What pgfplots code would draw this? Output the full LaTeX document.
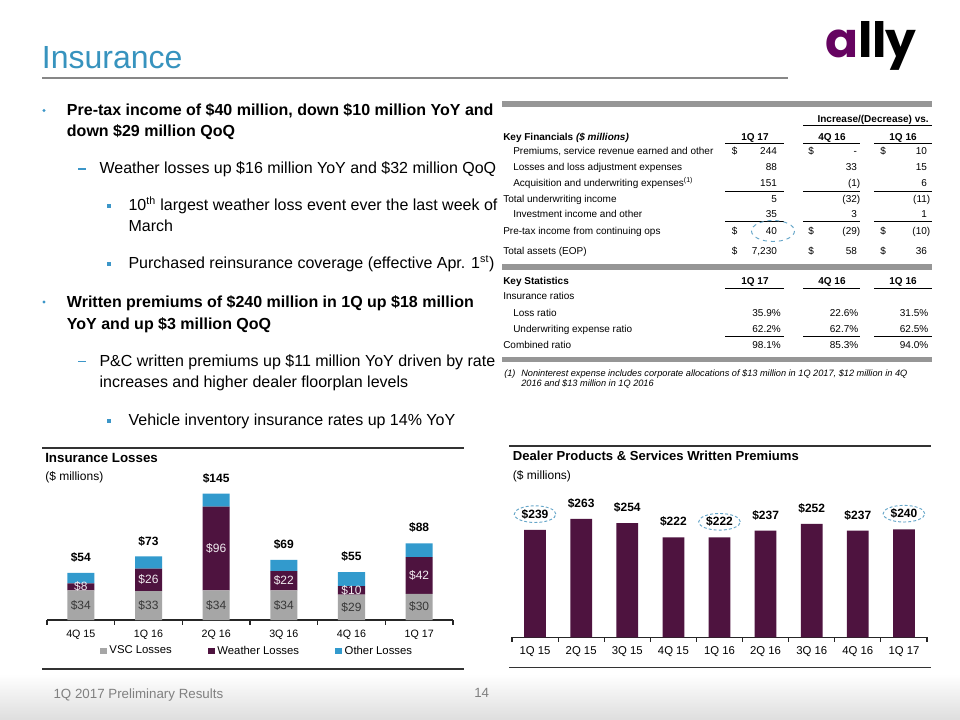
\documentclass[border=0pt]{standalone}
\usepackage{fontspec}
\setmainfont{Liberation Sans}
\newfontfamily\logofont{Poppins}
\usepackage{pgfplots}
\usepackage{pgfplotstable}
\pgfplotsset{compat=1.18}
\usetikzlibrary{shapes.geometric}

\definecolor{titleblue}{RGB}{55,147,190}
\definecolor{bulletblue}{RGB}{60,150,200}
\definecolor{vscgrey}{RGB}{166,166,166}
\definecolor{weapurple}{RGB}{78,19,63}
\definecolor{othblue}{RGB}{50,154,205}
\definecolor{rulegrey}{RGB}{135,135,135}
\definecolor{tablegrey}{RGB}{150,150,150}
\definecolor{elblue}{RGB}{100,165,200}
\definecolor{logopurple}{RGB}{101,3,96}
\definecolor{footgrey}{RGB}{128,128,128}

\newcommand{\fs}[1]{\fontsize{#1}{#1}\selectfont}
\newcommand{\pv}[1]{#1\phantom{)}}
\newcommand{\lab}[3]{\node[anchor=base west,inner sep=0pt] at (#1,#2) {#3};}
\newcommand{\num}[3]{\node[anchor=base east,inner sep=0pt] at (#1,#2) {#3};}
\newcommand{\dol}[2]{\node[anchor=base west,inner sep=0pt] at (#1,#2) {\$};}

\pgfplotstableread{
x vsc wea oth tot
0 34 8 12 54
1 33 26 14 73
2 34 96 15 145
3 34 22 13 69
4 29 10 16 55
5 30 42 16 88
}\losses

\pgfplotstableread{
x val
0 239
1 263
2 254
3 222
4 222
5 237
6 252
7 237
8 240
}\premiums

\pgfplotstableread{
x val
0 239
4 222
8 240
}\circled

\pgfplotsset{sqleg/.style={legend image code/.code={\fill[##1] (0pt,-2.6pt) rectangle (5.2pt,2.6pt);}}}

\begin{document}
\begin{tikzpicture}[x=0.75pt,y=-0.75pt]
\useasboundingbox (0,0) rectangle (960,720);
\fill[white] (0,0) rectangle (960,720);
\shade[top color=white, bottom color=black!13] (0,674) rectangle (960,720);

% title and logo
\node[anchor=base west, inner sep=0pt, text=titleblue, font=\fs{24}] at (41.7,68.3) {Insurance};
\draw[rulegrey, line width=2.2pt] (42,78) -- (788,78);
\node[anchor=base west, inner sep=0pt, font=\logofont\bfseries\fs{36.5}] at (825,57.3) {\textcolor{logopurple}{a}ll\kern-1pt y};

% bullets
\begin{scope}[font=\fs{12}]
\fill[bulletblue] (44,110.5) circle (1.6);
\node[anchor=base west, inner sep=0pt, font=\bfseries\fs{12}] at (66.7,116) {Pre-tax income of \$40 million, down \$10 million YoY and};
\node[anchor=base west, inner sep=0pt, font=\bfseries\fs{12}] at (66.7,137) {down \$29 million QoQ};
\draw[bulletblue, line width=0.8pt] (78,169) -- (85.5,169);
\lab{99.3}{173.3}{Weather losses up \$16 million YoY and \$32 million QoQ}
\fill[bulletblue] (107,204) rectangle (111,208);
\lab{128.3}{210.7}{10\textsuperscript{th} largest weather loss event ever the last week of}
\lab{128.3}{231.7}{March}
\fill[bulletblue] (107,262) rectangle (111,266);
\lab{128.3}{268.5}{Purchased reinsurance coverage (effective Apr. 1\textsuperscript{st})}
\fill[bulletblue] (44,302) circle (1.6);
\node[anchor=base west, inner sep=0pt, font=\bfseries\fs{12}] at (66.7,307.7) {Written premiums of \$240 million in 1Q up \$18 million};
\node[anchor=base west, inner sep=0pt, font=\bfseries\fs{12}] at (66.7,329.3) {YoY and up \$3 million QoQ};
\draw[bulletblue, line width=0.8pt] (78,361.5) -- (85.5,361.5);
\lab{99.3}{366}{P\&C written premiums up \$11 million YoY driven by rate}
\lab{99.3}{387.7}{increases and higher dealer floorplan levels}
\fill[bulletblue] (107,419) rectangle (111,423);
\lab{128.3}{425.3}{Vehicle inventory insurance rates up 14\% YoY}
\end{scope}

% table
\fill[tablegrey] (502,101) rectangle (932,107);
\fill[tablegrey] (502,264) rectangle (932,270);
\fill[tablegrey] (502,356.5) rectangle (932,361.5);
\begin{scope}[font=\fs{7.5}]
\node[anchor=base east,inner sep=0pt,font=\bfseries\fs{7.5}] at (929,122.3) {Increase/(Decrease) vs.};
\draw[line width=0.6pt] (803,125) -- (932,125);
\node[anchor=base west,inner sep=0pt,font=\bfseries\fs{7.5}] at (503,140.3) {Key Financials \textit{(\$ millions)}};
\node[anchor=base,inner sep=0pt,font=\bfseries\fs{7.5}] at (755,140.3) {1Q 17};
\node[anchor=base,inner sep=0pt,font=\bfseries\fs{7.5}] at (832,140.3) {4Q 16};
\node[anchor=base,inner sep=0pt,font=\bfseries\fs{7.5}] at (903,140.3) {1Q 16};
\foreach \yy in {143.3,191,221.7,288.3,336} {
  \draw[line width=0.6pt] (725,\yy) -- (784,\yy);
  \draw[line width=0.6pt] (803,\yy) -- (860,\yy);
  \draw[line width=0.6pt] (874,\yy) -- (932,\yy);
}
% rows
\lab{513}{155}{Premiums, service revenue earned and other}
\dol{731.7}{155}\num{780.5}{155}{\pv{244}}
\dol{808}{155}\num{860.5}{155}{\pv{-}}
\dol{880}{155}\num{930.5}{155}{\pv{10}}
\lab{513}{170.7}{Losses and loss adjustment expenses}
\num{780.5}{170.7}{\pv{88}}\num{860.5}{170.7}{\pv{33}}\num{930.5}{170.7}{\pv{15}}
\lab{513}{186.7}{Acquisition and underwriting expenses\textsuperscript{(1)}}
\num{780.5}{186.7}{\pv{151}}\num{860.5}{186.7}{(1)}\num{930.5}{186.7}{\pv{6}}
\lab{503}{202.3}{Total underwriting income}
\num{780.5}{202.3}{\pv{5}}\num{860.5}{202.3}{(32)}\num{930.5}{202.3}{(11)}
\lab{513}{217.7}{Investment income and other}
\num{780.5}{217.7}{\pv{35}}\num{860.5}{217.7}{\pv{3}}\num{930.5}{217.7}{\pv{1}}
\lab{503}{234.3}{Pre-tax income from continuing ops}
\dol{731.7}{234.3}\num{780.5}{234.3}{\pv{40}}
\dol{808}{234.3}\num{860.5}{234.3}{(29)}
\dol{880}{234.3}\num{930.5}{234.3}{(10)}
\draw[elblue, dashed, line width=0.7pt] (773,231) ellipse (21.5 and 10.5);
\lab{503}{254.3}{Total assets (EOP)}
\dol{731.7}{254.3}\num{780.5}{254.3}{\pv{7,230}}
\dol{808}{254.3}\num{860.5}{254.3}{\pv{58}}
\dol{880}{254.3}\num{930.5}{254.3}{\pv{36}}
% statistics
\node[anchor=base west,inner sep=0pt,font=\bfseries\fs{7.5}] at (503,285) {Key Statistics};
\node[anchor=base,inner sep=0pt,font=\bfseries\fs{7.5}] at (755,285) {1Q 17};
\node[anchor=base,inner sep=0pt,font=\bfseries\fs{7.5}] at (832,285) {4Q 16};
\node[anchor=base,inner sep=0pt,font=\bfseries\fs{7.5}] at (903,285) {1Q 16};
\lab{503}{299.3}{Insurance ratios}
\lab{513}{316}{Loss ratio}
\num{781}{316}{35.9\%}\num{858.5}{316}{22.6\%}\num{928.5}{316}{31.5\%}
\lab{513}{332}{Underwriting expense ratio}
\num{781}{332}{62.2\%}\num{858.5}{332}{62.7\%}\num{928.5}{332}{62.5\%}
\lab{503}{348.3}{Combined ratio}
\num{781}{348.3}{98.1\%}\num{858.5}{348.3}{85.3\%}\num{928.5}{348.3}{94.0\%}
\end{scope}
\begin{scope}[font=\itshape\fs{6.9}]
\lab{504}{376.7}{(1)}
\lab{521}{376.7}{Noninterest expense includes corporate allocations of \$13 million in 1Q 2017, \$12 million in 4Q}
\lab{521}{386}{2016 and \$13 million in 1Q 2016}
\end{scope}

% chart frames and titles
\draw[black!80, line width=0.8pt] (42,448) -- (464,448);
\draw[black!80, line width=0.8pt] (42,669) -- (464,669);
\draw[black!80, line width=0.8pt] (509,446) -- (931,446);
\draw[black!80, line width=0.8pt] (509,667.5) -- (931,667.5);
\node[anchor=base west,inner sep=0pt,font=\bfseries\fs{10}] at (45,462.7) {Insurance Losses};
\node[anchor=base west,inner sep=0pt,font=\fs{9}] at (45,480.7) {(\$ millions)};
\node[anchor=base west,inner sep=0pt,font=\bfseries\fs{9.8}] at (512.7,460.7) {Dealer Products \& Services Written Premiums};
\node[anchor=base west,inner sep=0pt,font=\fs{9}] at (512.7,479) {(\$ millions)};

% left chart bars
\begin{axis}[
  at={(35.25pt,-465pt)}, anchor=south west, scale only axis,
  width=304.5pt, height=104.6pt,
  xmin=-0.5, xmax=5.5, ymin=0, ymax=160,
  ybar stacked, bar width=20.25pt,
  axis x line*=bottom, axis y line=none,
  x axis line style={black!85, line width=0.8pt, -},
  xtick={0,...,5},
  xticklabels={4Q 15,1Q 16,2Q 16,3Q 16,4Q 16,1Q 17},
  major tick length=0pt, tick align=outside,
  extra x ticks={-0.5,0.5,1.5,2.5,3.5,4.5,5.5},
  extra x tick labels={},
  extra x tick style={major tick length=3.5pt, tick style={black!85, line width=0.8pt}},
  xticklabel style={font=\fs{8}, anchor=base, yshift=-13.4pt},
  legend style={at={(0.518,-0.2222)}, anchor=center, legend columns=3, draw=none, fill=none, font=\fs{8.5},
    /tikz/every even column/.append style={column sep=25pt}},
  legend cell align=left,
]
\addplot[fill=vscgrey, draw=none, sqleg] table[x=x,y=vsc]{\losses};
\addplot[fill=weapurple, draw=none, sqleg] table[x=x,y=wea]{\losses};
\addplot[fill=othblue, draw=none, sqleg] table[x=x,y=oth]{\losses};
\legend{VSC Losses, Weather Losses, Other Losses}
\end{axis}

% left chart labels
\begin{axis}[
  at={(35.25pt,-465pt)}, anchor=south west, scale only axis,
  width=304.5pt, height=104.6pt,
  xmin=-0.5, xmax=5.5, ymin=0, ymax=160,
  hide axis, clip=false,
  point meta=explicit symbolic,
  nodes near coords={\$\pgfplotspointmeta},
]
\addplot[draw=none, mark=none, every node near coord/.append style={anchor=center, font=\fs{9}, text=black!78}]
  table[x=x, y expr=\thisrow{vsc}/2, meta=vsc]{\losses};
\addplot[draw=none, mark=none, every node near coord/.append style={anchor=center, font=\fs{9}, text=white!92!weapurple}]
  table[x=x, y expr=\thisrow{vsc}+\thisrow{wea}/2, meta=wea]{\losses};
\addplot[draw=none, mark=none, every node near coord/.append style={anchor=center, font=\bfseries\fs{9}, text=black, yshift=11.5pt}]
  table[x=x, y=tot, meta=tot]{\losses};
\end{axis}

% right chart
\begin{axis}[
  at={(384pt,-477.975pt)}, anchor=south west, scale only axis,
  width=311.25pt, height=101.25pt,
  xmin=-0.5, xmax=8.5, ymin=0, ymax=300,
  ybar, bar width=16.3pt, bar shift=0pt,
  axis x line*=bottom, axis y line=none,
  x axis line style={black!85, line width=0.8pt, -},
  xtick={0,...,8},
  xticklabels={1Q 15,2Q 15,3Q 15,4Q 15,1Q 16,2Q 16,3Q 16,4Q 16,1Q 17},
  major tick length=0pt, tick align=outside,
  extra x ticks={-0.5,0.5,1.5,2.5,3.5,4.5,5.5,6.5,7.5,8.5},
  extra x tick labels={},
  extra x tick style={major tick length=3.5pt, tick style={black!85, line width=0.8pt}},
  xticklabel style={font=\fs{8.5}, anchor=base, yshift=-13pt},
  clip=false,
  /pgf/number format/assume math mode=true,
]
\addplot[fill=weapurple, draw=none, nodes near coords={\$\pgfmathprintnumber{\pgfplotspointmeta}},
  every node near coord/.append style={font=\bfseries\fs{9}, anchor=center, yshift=11.7pt}]
  table[x=x,y=val]{\premiums};
\addplot[draw=none, fill=none, nodes near coords={},
  every node near coord/.append style={ellipse, draw=elblue, dash pattern=on 2.2pt off 1.6pt, line width=0.7pt, minimum width=31.3pt, minimum height=12.5pt, inner sep=0pt, anchor=center, yshift=11.7pt}]
  table[x=x,y=val]{\circled};
\end{axis}

% footer
\node[anchor=base west,inner sep=0pt,font=\fs{10},text=footgrey] at (53.3,698.3) {1Q 2017 Preliminary Results};
\node[anchor=base west,inner sep=0pt,font=\fs{10},text=footgrey] at (474,697.5) {14};
\end{tikzpicture}
\end{document}
